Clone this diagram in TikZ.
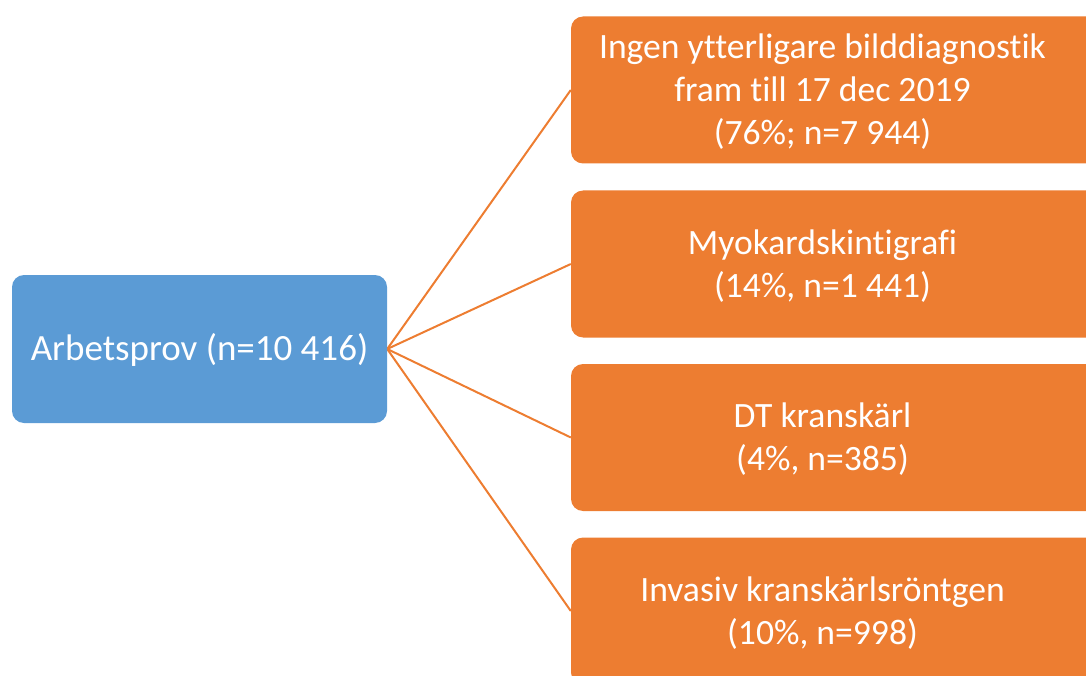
\documentclass[tikz,border=0pt]{standalone}
\usepackage{fontspec}
\setmainfont{Carlito}[Ligatures=NoCommon]
\usetikzlibrary{backgrounds}
\definecolor{srcblue}{HTML}{5B9BD5}
\definecolor{outorange}{HTML}{ED7D31}
\begin{document}
\begin{tikzpicture}[x=1pt,y=-1pt,
  srcbox/.style={fill=srcblue, rounded corners=12pt, minimum width=375pt,
    minimum height=148pt, inner sep=0pt},
  outbox/.style={fill=outorange, rounded corners=12pt, minimum width=530pt,
    minimum height=147pt, inner sep=0pt},
  boxtext/.style={text=white, align=center, inner sep=0pt,
    font=\fontsize{35.6}{43}\selectfont},
  link/.style={draw=outorange, line width=2pt}]
\useasboundingbox (0,0) rectangle (1086,676);
\clip (0,0) rectangle (1086,676);

% source box
\node[srcbox] (src) at (199.5,349) {};
\node[boxtext, font=\fontsize{37}{43}\selectfont] (srct) at (199.5,350) {Arbetsprov (n=10 416)};

% outcome boxes
\node[outbox] (o1) at (836,90) {};
\node[outbox] (o2) at (836,264) {};
\node[outbox] (o3) at (836,437.5) {};
\node[outbox] (o4) at (836,611) {};

\node[boxtext] (t1) at (822.5,92) {Ingen ytterligare bilddiagnostik\\fram till 17 dec 2019\\(76\%; n=7 944)};
\node[boxtext] (t2) at (822.5,266) {Myokardskintigrafi\\(14\%, n=1 441)};
\node[boxtext] (t3) at (822.5,439.5) {DT kranskärl\\(4\%, n=385)};
\node[boxtext] (t4) at (822.5,613) {Invasiv kranskärlsröntgen\\(10\%, n=998)};

% connectors
\begin{scope}[on background layer]
\draw[link] (src.east) -- (o1.west);
\draw[link] (src.east) -- (o2.west);
\draw[link] (src.east) -- (o3.west);
\draw[link] (src.east) -- (o4.west);
\end{scope}
\end{tikzpicture}
\end{document}
